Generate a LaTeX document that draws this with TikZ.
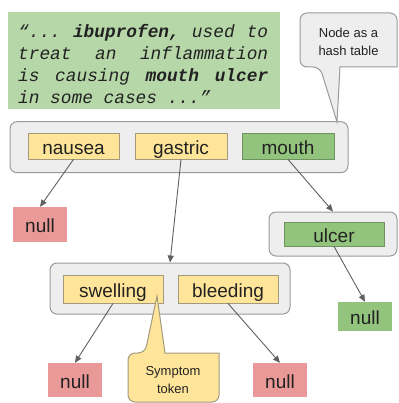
\documentclass[tikz,border=0pt]{standalone}
\usepackage{fontspec}
\setmainfont{Liberation Sans}
\newfontfamily\qfont{Liberation Mono}
\usetikzlibrary{arrows.meta}
\definecolor{qgreen}{HTML}{B6D7A8}
\definecolor{cfill}{HTML}{EEEEEE}
\definecolor{cline}{HTML}{9A9A9A}
\definecolor{yfill}{HTML}{FFE599}
\definecolor{yline}{HTML}{A39A7E}
\definecolor{gfill}{HTML}{93C47D}
\definecolor{gline}{HTML}{6E9260}
\definecolor{rfill}{HTML}{EA9999}
\definecolor{arrowc}{HTML}{5F5F5F}
\definecolor{txt}{HTML}{222222}
\begin{document}
\begin{tikzpicture}[x=1pt,y=-1pt,
  container/.style={draw=cline, fill=cfill, line width=1pt, rounded corners=7pt, inner sep=0pt},
  lbl/.style={font=\fontsize{19pt}{19pt}\selectfont, text=txt, inner sep=0pt, text height=16pt, text depth=0pt},
  ybox/.style={lbl, fill=yfill, draw=yline, line width=0.8pt},
  gbox/.style={lbl, fill=gfill, draw=gline, line width=0.8pt},
  nullbox/.style={lbl, fill=rfill, minimum width=54pt},
  link/.style={draw=arrowc, line width=0.9pt, -{Triangle[length=7pt,width=6pt]}},
  callout/.style={draw=cline, fill=cfill, line width=1pt},
  ctext/.style={font=\fontsize{13pt}{18pt}\selectfont, text=txt, align=center, inner sep=0pt},
  qline/.style={font=\qfont\itshape\fontsize{17.8pt}{22pt}\selectfont, text=txt, inner sep=0pt, anchor=base west}
]
\useasboundingbox (0,0) rectangle (398,403);

% quote
\node[fill=qgreen, minimum width=272pt, minimum height=97pt, inner sep=0pt] (quote) at (144,60.5) {};
\node[qline] (q1) at (18,37.5) {\makebox[250pt][l]{“...\hfill\textbf{ibuprofen,}\hfill used\hfill to}};
\node[qline] (q2) at (18,59.5) {\makebox[250pt][l]{treat\hfill an\hfill inflammation}};
\node[qline] (q3) at (18,81.5) {\makebox[250pt][l]{is\hfill causing\hfill\textbf{mouth}\hfill\textbf{ulcer}}};
\node[qline] (q4) at (18,103.5) {in some cases ...”};

% top hash node
\node[container, minimum width=338pt, minimum height=51pt] (topcont) at (179,147.2) {};
\node[ybox, minimum width=91pt, minimum height=26pt] (nausea) at (73.5,146) {nausea};
\node[ybox, minimum width=92pt, minimum height=26pt] (gastric) at (181,146) {gastric};
\node[gbox, minimum width=92pt, minimum height=26pt] (mouth) at (288,146) {mouth};

% hash callout
\coordinate (htip) at (337,122);
\draw[callout] (htip) -- (340,67) -- (397,67) [rounded corners=7pt] -- (397,13) -- (300,13) -- (300,67) -- (320,67) [sharp corners] -- cycle;
\node[ctext] (hashnote) at (348.5,42) {Node as a\\hash table};

% null after nausea
\node[nullbox, minimum height=35pt] (null1) at (40,224.5) {null};

% ulcer node
\node[container, minimum width=128pt, minimum height=44pt] (ulcont) at (333,234) {};
\node[gbox, minimum width=100pt, minimum height=24pt] (ulcer) at (334,234) {ulcer};
\node[lbl, fill=gfill, minimum width=54pt, minimum height=29pt] (nullg) at (365,316.5) {null};

% swelling / bleeding node
\node[container, minimum width=240pt, minimum height=51pt] (swellcont) at (170,288.5) {};
\node[ybox, minimum width=100pt, minimum height=28pt] (swelling) at (113,289) {swelling};
\node[ybox, minimum width=100pt, minimum height=28pt] (bleeding) at (228,289) {bleeding};

\node[nullbox, minimum height=34pt] (nullL) at (75,380) {null};
\node[nullbox, minimum height=34pt] (nullR) at (280,380) {null};

% symptom callout
\coordinate (stip) at (157,296);
\draw[callout, fill=yfill, draw=yline] (stip) -- (165,353) -- (219,353) [rounded corners=7pt] -- (219,402) -- (128,402) -- (128,353) -- (145,353) [sharp corners] -- cycle;
\node[ctext] (symnote) at (173,380) {Symptom\\token};

% connectors
\draw[link] (nausea.south) -- (null1.north);
\draw[link] (gastric.south) -- (swellcont.north);
\draw[link] (mouth.south) -- (ulcont.north);
\draw[link] (ulcer.south) -- (nullg.north);
\draw[link] (swelling.south) -- (nullL.north);
\draw[link] (bleeding.south) -- (nullR.north);
\end{tikzpicture}
\end{document}
